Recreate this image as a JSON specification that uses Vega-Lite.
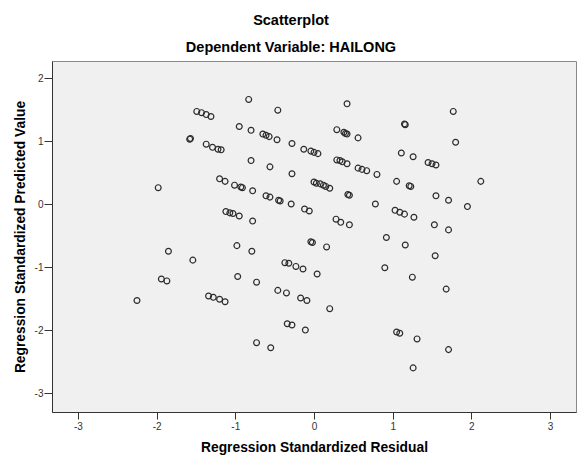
{
  "$schema": "https://vega.github.io/schema/vega-lite/v6.json",
  "width": 524,
  "height": 351,
  "autosize": {"type": "none"},
  "padding": {"left": 52, "top": 61, "right": 7, "bottom": 55},
  "background": "white",
  "config": {
    "font": "Liberation Sans",
    "view": {"fill": "#f0f0f0", "stroke": "#888888", "strokeWidth": 1},
    "axis": {
      "grid": false,
      "domainColor": "#333333",
      "tickColor": "#333333",
      "labelColor": "#333333",
      "labelFont": "Liberation Sans",
      "labelFontSize": 10,
      "labelExpr": "datum.value + ''",
      "titleFont": "Liberation Sans",
      "titleFontSize": 13.8,
      "titleFontWeight": "bold",
      "titleColor": "black"
    }
  },
  "title": {
    "text": "Scatterplot",
    "subtitle": "Dependent Variable: HAILONG",
    "anchor": "middle",
    "dx": -23,
    "offset": 6,
    "font": "Liberation Sans",
    "fontSize": 14.5,
    "fontWeight": "bold",
    "color": "black",
    "subtitleFont": "Liberation Sans",
    "subtitleFontSize": 14.5,
    "subtitleFontWeight": "bold",
    "subtitleColor": "black",
    "subtitlePadding": 12
  },
  "data": {
    "values": [
      {"resid": -0.83, "pred": 1.66}, {"resid": -0.46, "pred": 1.49},
      {"resid": -1.49, "pred": 1.47}, {"resid": -1.43, "pred": 1.45},
      {"resid": -1.37, "pred": 1.42}, {"resid": -1.31, "pred": 1.39},
      {"resid": -0.95, "pred": 1.23}, {"resid": -0.80, "pred": 1.17},
      {"resid": -0.65, "pred": 1.11}, {"resid": -0.61, "pred": 1.09},
      {"resid": -0.57, "pred": 1.07}, {"resid": -0.47, "pred": 1.02},
      {"resid": -0.28, "pred": 0.96}, {"resid": -0.13, "pred": 0.87},
      {"resid": -0.04, "pred": 0.84}, {"resid": 0.00, "pred": 0.82},
      {"resid": 0.05, "pred": 0.80}, {"resid": -1.58, "pred": 1.03},
      {"resid": -1.57, "pred": 1.04}, {"resid": -1.37, "pred": 0.95},
      {"resid": -1.29, "pred": 0.90}, {"resid": -1.22, "pred": 0.87},
      {"resid": -1.18, "pred": 0.86}, {"resid": -0.80, "pred": 0.69},
      {"resid": -0.56, "pred": 0.59}, {"resid": -0.28, "pred": 0.48},
      {"resid": -1.98, "pred": 0.26}, {"resid": -1.20, "pred": 0.40},
      {"resid": -1.13, "pred": 0.36}, {"resid": -1.01, "pred": 0.30},
      {"resid": -0.93, "pred": 0.27}, {"resid": -0.91, "pred": 0.26},
      {"resid": -0.78, "pred": 0.21}, {"resid": -0.61, "pred": 0.13},
      {"resid": -0.56, "pred": 0.11}, {"resid": -0.45, "pred": 0.06},
      {"resid": -0.43, "pred": 0.05}, {"resid": -0.29, "pred": 0.00},
      {"resid": -0.12, "pred": -0.08}, {"resid": -0.06, "pred": -0.11},
      {"resid": -1.12, "pred": -0.12}, {"resid": -1.07, "pred": -0.14},
      {"resid": -1.03, "pred": -0.15}, {"resid": -0.95, "pred": -0.19},
      {"resid": -0.78, "pred": -0.27}, {"resid": 0.42, "pred": 1.59},
      {"resid": 1.77, "pred": 1.47}, {"resid": 1.15, "pred": 1.27},
      {"resid": 1.16, "pred": 1.26}, {"resid": 0.29, "pred": 1.18},
      {"resid": 0.38, "pred": 1.14}, {"resid": 0.40, "pred": 1.12},
      {"resid": 0.42, "pred": 1.11}, {"resid": 0.56, "pred": 1.05},
      {"resid": 1.80, "pred": 0.98}, {"resid": 1.11, "pred": 0.81},
      {"resid": 1.26, "pred": 0.75}, {"resid": 1.45, "pred": 0.66},
      {"resid": 1.50, "pred": 0.64}, {"resid": 1.55, "pred": 0.62},
      {"resid": 0.29, "pred": 0.70}, {"resid": 0.33, "pred": 0.69},
      {"resid": 0.36, "pred": 0.67}, {"resid": 0.42, "pred": 0.64},
      {"resid": 0.56, "pred": 0.57}, {"resid": 0.61, "pred": 0.55},
      {"resid": 0.67, "pred": 0.53}, {"resid": 0.80, "pred": 0.47},
      {"resid": 0.00, "pred": 0.35}, {"resid": 0.03, "pred": 0.33},
      {"resid": 0.08, "pred": 0.32}, {"resid": 0.12, "pred": 0.30},
      {"resid": 0.15, "pred": 0.28}, {"resid": 0.20, "pred": 0.25},
      {"resid": 1.05, "pred": 0.36}, {"resid": 1.21, "pred": 0.29},
      {"resid": 1.23, "pred": 0.28}, {"resid": 2.12, "pred": 0.36},
      {"resid": 0.43, "pred": 0.15}, {"resid": 0.45, "pred": 0.14},
      {"resid": 1.55, "pred": 0.13}, {"resid": 1.71, "pred": 0.06},
      {"resid": 1.95, "pred": -0.04}, {"resid": 0.78, "pred": 0.00},
      {"resid": 1.03, "pred": -0.10}, {"resid": 1.09, "pred": -0.13},
      {"resid": 1.15, "pred": -0.16}, {"resid": 1.27, "pred": -0.21},
      {"resid": 0.28, "pred": -0.24}, {"resid": 0.34, "pred": -0.29},
      {"resid": 0.45, "pred": -0.33}, {"resid": 1.53, "pred": -0.33},
      {"resid": 1.71, "pred": -0.41}, {"resid": 0.92, "pred": -0.53},
      {"resid": -0.98, "pred": -0.66}, {"resid": -0.79, "pred": -0.75},
      {"resid": -1.85, "pred": -0.75}, {"resid": -1.54, "pred": -0.89},
      {"resid": -0.04, "pred": -0.60}, {"resid": -0.02, "pred": -0.61},
      {"resid": -0.37, "pred": -0.93}, {"resid": -0.32, "pred": -0.94},
      {"resid": -0.23, "pred": -0.99}, {"resid": -0.14, "pred": -1.03},
      {"resid": 0.04, "pred": -1.11}, {"resid": -1.94, "pred": -1.19},
      {"resid": -1.87, "pred": -1.22}, {"resid": -0.97, "pred": -1.15},
      {"resid": -0.73, "pred": -1.24}, {"resid": -0.46, "pred": -1.37},
      {"resid": -0.35, "pred": -1.41}, {"resid": -0.17, "pred": -1.49},
      {"resid": -0.09, "pred": -1.53}, {"resid": -2.25, "pred": -1.53},
      {"resid": -1.34, "pred": -1.46}, {"resid": -1.28, "pred": -1.48},
      {"resid": -1.20, "pred": -1.51}, {"resid": -1.13, "pred": -1.55},
      {"resid": -0.34, "pred": -1.90}, {"resid": -0.28, "pred": -1.92},
      {"resid": -0.11, "pred": -2.00}, {"resid": -0.73, "pred": -2.20},
      {"resid": -0.55, "pred": -2.28}, {"resid": 0.16, "pred": -0.68},
      {"resid": 1.16, "pred": -0.65}, {"resid": 1.54, "pred": -0.82},
      {"resid": 0.90, "pred": -1.01}, {"resid": 1.25, "pred": -1.16},
      {"resid": 1.68, "pred": -1.35}, {"resid": 0.20, "pred": -1.66},
      {"resid": 1.05, "pred": -2.03}, {"resid": 1.09, "pred": -2.05},
      {"resid": 1.31, "pred": -2.14}, {"resid": 1.71, "pred": -2.31},
      {"resid": 1.26, "pred": -2.60}
    ]
  },
  "mark": {
    "type": "point",
    "shape": "circle",
    "filled": false,
    "stroke": "#2b2b2b",
    "strokeWidth": 1.2,
    "size": 34,
    "opacity": 1
  },
  "encoding": {
    "x": {
      "field": "resid",
      "type": "quantitative",
      "title": "Regression Standardized Residual",
      "scale": {"domain": [-3.33, 3.33], "nice": false, "zero": false},
      "axis": {"values": [-3, -2, -1, 0, 1, 2, 3], "tickSize": 7, "labelPadding": 2, "titlePadding": 9}
    },
    "y": {
      "field": "pred",
      "type": "quantitative",
      "title": "Regression Standardized Predicted Value",
      "scale": {"domain": [-3.3, 2.27], "nice": false, "zero": false},
      "axis": {"values": [-3, -2, -1, 0, 1, 2], "tickSize": 8, "labelPadding": 1, "titlePadding": 7}
    }
  }
}
